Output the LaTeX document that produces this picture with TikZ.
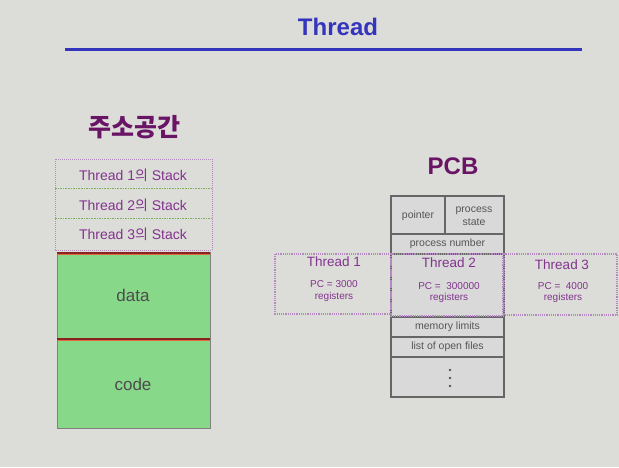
\documentclass[tikz,border=0pt]{standalone}
\usepackage{fontspec}
\setmainfont{Liberation Sans}
\newfontfamily\kr{Noto Sans CJK KR}
\definecolor{bgc}{HTML}{DCDCD8}
\definecolor{titleblue}{HTML}{3434BC}
\definecolor{ttlpurple}{HTML}{6A1466}
\definecolor{txtpurple}{HTML}{82348E}
\definecolor{dotpurple}{HTML}{B488C0}
\definecolor{sepgreen}{HTML}{7FAF5F}
\definecolor{memgreen}{HTML}{88D88A}
\definecolor{darkred}{HTML}{8A2222}
\definecolor{orangered}{HTML}{E06A40}
\definecolor{pcbfill}{HTML}{D9D9D9}
\definecolor{pcbline}{HTML}{666666}
\definecolor{pcbtext}{HTML}{555555}
\begin{document}
\begin{tikzpicture}[x=1pt,y=-1pt,
  stackbox/.style={draw=dotpurple,densely dotted,line width=1pt},
  stacktext/.style={text=txtpurple,font=\fontsize{14}{16}\selectfont},
  sepline/.style={draw=sepgreen,densely dotted,line width=1.6pt},
  membox/.style={draw=gray,fill=memgreen,line width=0.8pt},
  redline/.style={draw=darkred,line width=2.2pt},
  orline/.style={draw=orangered,line width=0.8pt},
  memtext/.style={text=black!70,font=\fontsize{17}{19}\selectfont},
  pcbcell/.style={draw=pcbline,fill=pcbfill,line width=1.2pt},
  pcbtxt/.style={text=pcbtext,font=\fontsize{10.5}{12.5}\selectfont,align=center},
  thbox/.style={draw=dotpurple,densely dotted,line width=1.2pt},
  thtitle/.style={text=txtpurple,font=\fontsize{13.5}{16}\selectfont},
  thsmall/.style={text=txtpurple,font=\fontsize{10}{12}\selectfont},
  bigtitle/.style={text=ttlpurple,font=\bfseries\fontsize{24}{28}\selectfont}]
\fill[bgc] (0,0) rectangle (619,467);
\useasboundingbox (0,0) rectangle (619,467);
% title
\node[text=titleblue,font=\bfseries\fontsize{24}{28}\selectfont] (title) at (338,27) {Thread};
\coordinate (tl) at (65,49);
\coordinate (tr) at (582,49);
\draw[titleblue,line width=3pt] (tl) -- (tr);
% address space
\node[bigtitle] (addr) at (134,127) {\kr\bfseries\fontsize{25}{29}\selectfont 주소공간};
\draw[stackbox] (55,159) rectangle (212,250);
\coordinate (s1l) at (55,188.5); \coordinate (s1r) at (212,188.5);
\coordinate (s2l) at (55,218.5); \coordinate (s2r) at (212,218.5);
\draw[sepline] (s1l) -- (s1r);
\draw[sepline] (s2l) -- (s2r);
\node[stacktext] (st1) at (133,175) {Thread 1{\kr 의} Stack};
\node[stacktext] (st2) at (133,205) {Thread 2{\kr 의} Stack};
\node[stacktext] (st3) at (133,234) {Thread 3{\kr 의} Stack};
\draw[membox] (57,252) rectangle (210,428);
\coordinate (r1l) at (57,253); \coordinate (r1r) at (210,253);
\coordinate (r2l) at (57,339); \coordinate (r2r) at (210,339);
\coordinate (o1l) at (57,254.8); \coordinate (o1r) at (210,254.8);
\coordinate (o2l) at (57,340.8); \coordinate (o2r) at (210,340.8);
\draw[orline] (o1l) -- (o1r);
\draw[orline] (o2l) -- (o2r);
\draw[redline] (r1l) -- (r1r);
\draw[redline] (r2l) -- (r2r);
\node[memtext] (data) at (133,295) {data};
\node[memtext] (code) at (133,384) {code};
% PCB
\node[bigtitle] (pcb) at (453,166) {PCB};
\draw[pcbcell] (391,196) rectangle (445,234);
\draw[pcbcell] (445,196) rectangle (504,234);
\draw[pcbcell] (391,234) rectangle (504,254);
\draw[pcbcell] (391,254) rectangle (504,317);
\draw[pcbcell] (391,317) rectangle (504,337);
\draw[pcbcell] (391,337) rectangle (504,357);
\draw[pcbcell] (391,357) rectangle (504,397);
\node[pcbtxt] (ptr) at (418,216) {pointer};
\node[pcbtxt] (pst) at (474,216) {process\\state};
\node[pcbtxt] (pnum) at (447.5,244) {process number};
\node[pcbtxt] (mem) at (447.5,327) {memory limits};
\node[pcbtxt] (files) at (447.5,347) {list of open files};
\foreach \yy in {370,378,386}
  \fill[pcbtext] (450,\yy) circle (1.3);
% thread boxes
\draw[thbox] (275,254) rectangle (391,314);
\draw[thbox] (391,254) rectangle (503,316);
\draw[thbox] (504,254) rectangle (617,315);
\node[thtitle] (t1) at (334,262) {Thread 1};
\node[thsmall] (t1pc) at (334,284) {PC = 3000};
\node[thsmall] (t1r) at (334,297) {registers};
\node[thtitle] (t2) at (449,263) {Thread 2};
\node[thsmall] (t2pc) at (449,286) {PC = \ 300000};
\node[thsmall] (t2r) at (449,298) {registers};
\node[thtitle] (t3) at (562,265) {Thread 3};
\node[thsmall] (t3pc) at (563,286) {PC = \ 4000};
\node[thsmall] (t3r) at (563,298) {registers};
\end{tikzpicture}
\end{document}
